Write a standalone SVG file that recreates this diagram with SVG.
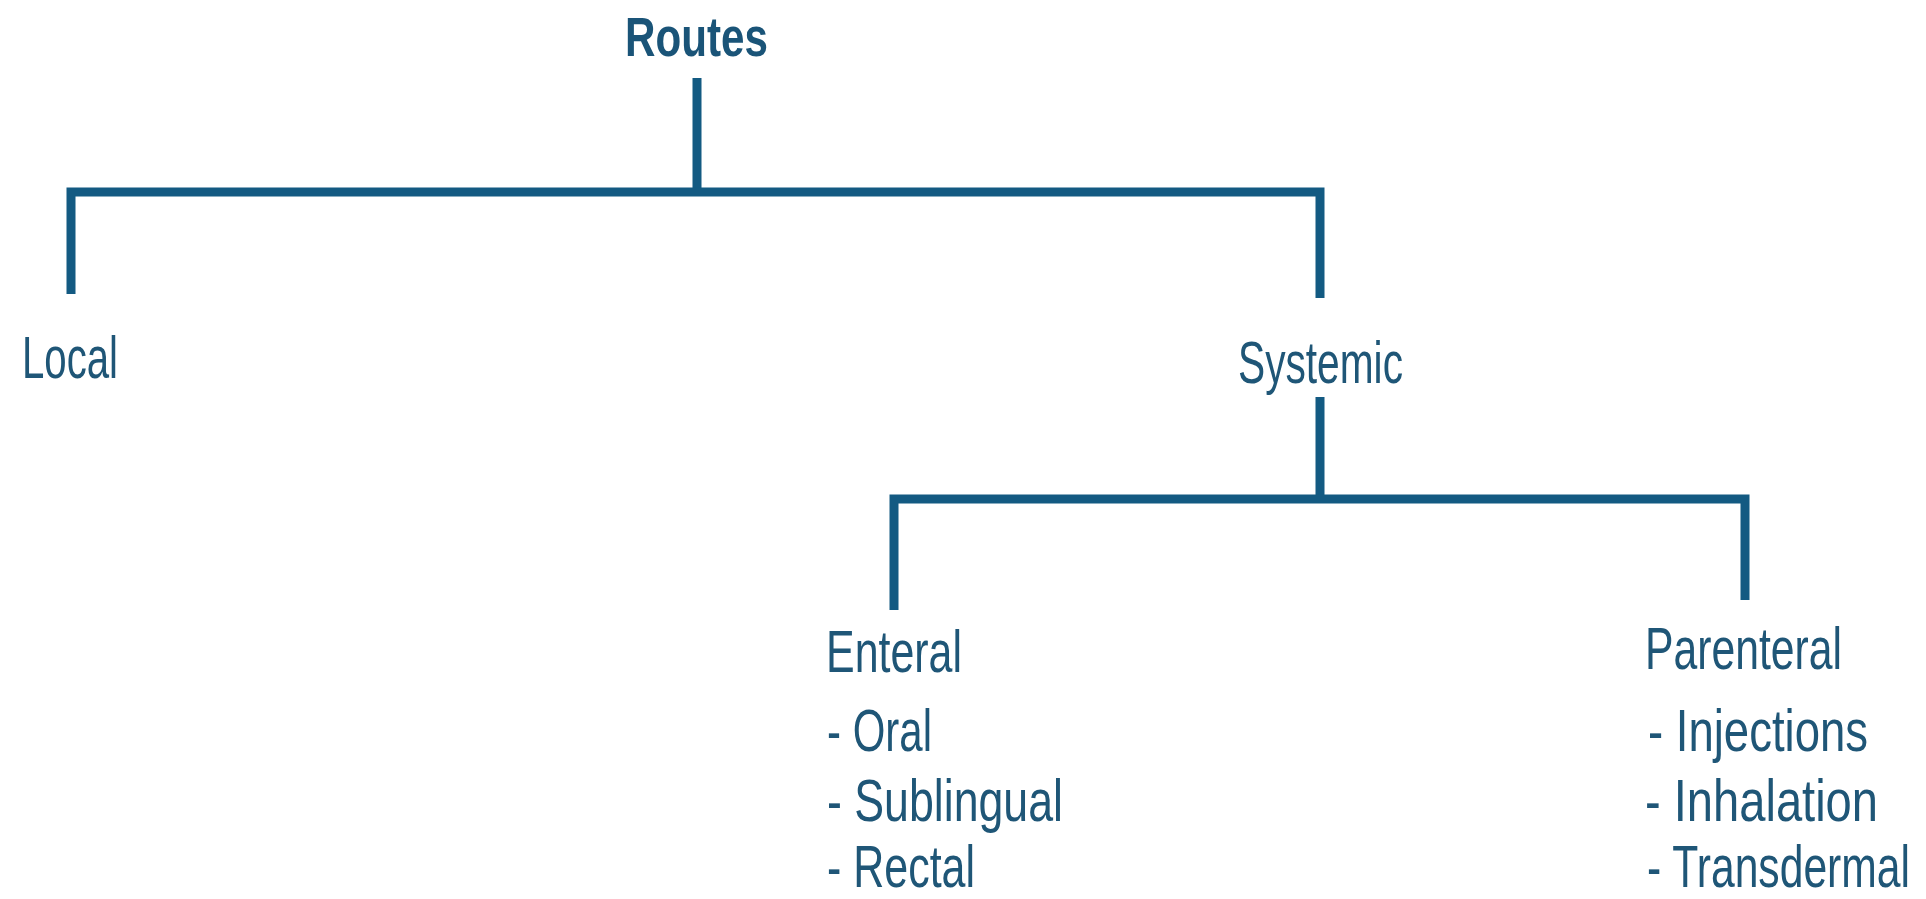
<svg xmlns="http://www.w3.org/2000/svg" width="1926" height="899" viewBox="0 0 1926 899">
<style>
.ln{stroke:#135a82;stroke-width:9;fill:none;stroke-linecap:butt;stroke-linejoin:miter}
.t{font-family:"Liberation Sans",Arial,sans-serif;font-size:44px;fill:#1f5677}
.b{font-weight:bold;font-size:46px;fill:#1a5478}
</style>
<rect width="1926" height="899" fill="#ffffff"/>
<g id="connectors">
<path class="ln" d="M697,78 V192"/>
<path class="ln" d="M71,294 V192 H1320 V298"/>
<path class="ln" d="M1320,397 V499"/>
<path class="ln" d="M894,610 V499 H1745 V600"/>
</g>
<g id="routes"><text class="t b" transform="translate(625,56) scale(1,1.2)" textLength="143" lengthAdjust="spacingAndGlyphs">Routes</text></g>
<g id="local"><text class="t" transform="translate(22,378) scale(1,1.364)" textLength="96" lengthAdjust="spacingAndGlyphs">Local</text></g>
<g id="systemic"><text class="t" transform="translate(1238,383) scale(1,1.364)" textLength="165" lengthAdjust="spacingAndGlyphs">Systemic</text></g>
<g id="enteral">
<text class="t" transform="translate(826,672) scale(1,1.364)" textLength="136" lengthAdjust="spacingAndGlyphs">Enteral</text>
<text class="t" transform="translate(827,751) scale(1,1.364)" textLength="105" lengthAdjust="spacingAndGlyphs">- Oral</text>
<text class="t" transform="translate(827,821) scale(1,1.364)" textLength="236" lengthAdjust="spacingAndGlyphs">- Sublingual</text>
<text class="t" transform="translate(827,887) scale(1,1.364)" textLength="148" lengthAdjust="spacingAndGlyphs">- Rectal</text>
</g>
<g id="parenteral">
<text class="t" transform="translate(1645,669) scale(1,1.364)" textLength="197" lengthAdjust="spacingAndGlyphs">Parenteral</text>
<text class="t" transform="translate(1648,751) scale(1,1.364)" textLength="220" lengthAdjust="spacingAndGlyphs">- Injections</text>
<text class="t" transform="translate(1645,821) scale(1,1.364)" textLength="233" lengthAdjust="spacingAndGlyphs">- Inhalation</text>
<text class="t" transform="translate(1647,887) scale(1,1.364)" textLength="263" lengthAdjust="spacingAndGlyphs">- Transdermal</text>
</g>
</svg>
